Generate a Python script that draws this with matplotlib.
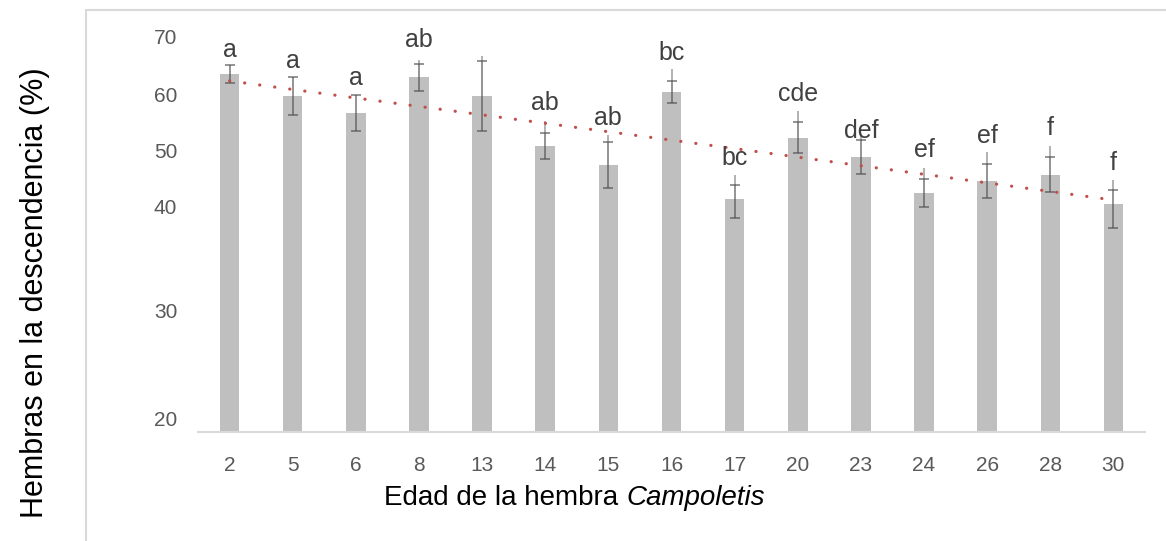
import numpy as np
import matplotlib
matplotlib.use('Agg')
import matplotlib.pyplot as plt
from matplotlib.patches import Rectangle

plt.rcParams['font.family'] = ['Liberation Sans', 'DejaVu Sans']

edades = ['2', '5', '6', '8', '13', '14', '15', '16', '17', '20', '23', '24', '26', '28', '30']
hembras = [63.5, 59.6, 56.6, 62.9, 59.6, 50.8, 47.4, 60.3, 41.4, 52.2, 48.8, 42.5, 44.6, 45.7, 40.5]
error = [1.6, 3.3, 3.2, 2.3, 6.2, 2.3, 4.0, 1.95, 2.5, 2.8, 3.0, 2.45, 3.0, 3.1, 2.5]
error_ext = [0, 0, 0, 0.7, 0.9, 2.1, 1.2, 2.1, 1.8, 1.9, 0.7, 1.9, 2.1, 1.9, 1.8]
letras = ['a', 'a', 'a', 'ab', '', 'ab', 'ab', 'bc', 'bc', 'cde', 'def', 'ef', 'ef', 'f', 'f']
letras_y = [66.5, 64.5, 61.65, 68.2, 0, 57.1, 54.5, 66.05, 47.3, 58.7, 52.1, 48.8, 51.2, 52.7, 46.5]
yticks = [20, 30, 40, 50, 60, 70]

# the original y axis is not evenly spaced, so map it piecewise
eje_v = np.array([80, 70, 60, 50, 40, 30, 20, 10])
eje_px = np.array([-20, 37, 94, 150, 207, 310, 418, 526])

def forward(v):
    return 600 - np.interp(v, eje_v[::-1], eje_px[::-1])

def inverse(u):
    return np.interp(600 - np.asarray(u), eje_px, eje_v)

W, H = 1166, 541
fig = plt.figure(figsize=(W / 100, H / 100), dpi=100)
ax = fig.add_axes([198 / W, (H - 432) / H, (1145 - 198) / W, (432 - 30) / H])
ax.set_yscale('function', functions=(forward, inverse))
ax.set_ylim(inverse(600 - 432), inverse(600 - 30))
ax.set_xlim(-0.5, len(edades) - 0.5)

x = np.arange(len(edades))
ax.bar(x, hembras, width=0.31, color='#bfbfbf', bottom=0, zorder=2)

top = np.array(hembras) + np.array(error)
ax.vlines(x, top, top + np.array(error_ext), color='#595959', alpha=0.5, lw=1.3, zorder=3)
ax.errorbar(x, hembras, yerr=error, fmt='none', ecolor='#4d4d4d', alpha=0.65,
            elinewidth=1.3, capsize=3.3, capthick=1.3, zorder=3)

coef = np.polyfit(x, hembras, 1)
ax.plot(x, np.polyval(coef, x), color='#c0504d', lw=2.3, dashes=(0.05, 4.7),
        dash_capstyle='round', zorder=4)

for xi, t, yl in zip(x, letras, letras_y):
    if t:
        ax.text(xi, yl, t, ha='center', va='baseline', fontsize=18, color='#404040', zorder=5)

ax.set_yticks(yticks)
ax.set_yticklabels([str(v) for v in yticks])
ax.set_xticks(x)
ax.set_xticklabels(edades)
ax.tick_params(axis='both', length=0, labelsize=15, colors='#595959')
ax.tick_params(axis='y', pad=15)
ax.tick_params(axis='x', pad=17)
ax.minorticks_off()

for s in ['top', 'right', 'left']:
    ax.spines[s].set_visible(False)
ax.spines['bottom'].set_color('#d9d9d9')
ax.spines['bottom'].set_linewidth(1.5)

fig.text(626 / W, (H - 498) / H, 'Edad de la hembra ', ha='right', va='center',
         fontsize=20, color='#000000')
fig.text(626 / W, (H - 498) / H, 'Campoletis', ha='left', va='center',
         fontsize=20, color='#000000', style='italic')
fig.text(35 / W, (H - 293) / H, 'Hembras en la descendencia (%)', rotation=90,
         ha='center', va='center', fontsize=22, color='#000000')

fig.patches.append(Rectangle((86 / W, -0.1), 2, (H - 10) / H + 0.1, transform=fig.transFigure,
                             fill=False, edgecolor='#d9d9d9', lw=1.5))

fig.savefig('out.png', dpi=100)
